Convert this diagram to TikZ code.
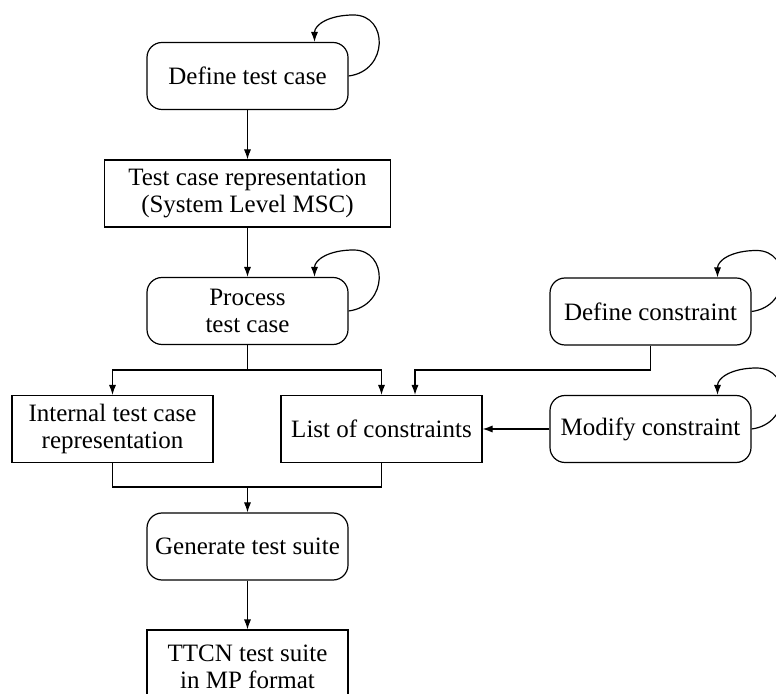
\documentclass[tikz,border=0pt]{standalone}
\usepackage{fontspec}
\setmainfont{Liberation Serif}
\usetikzlibrary{calc,arrows.meta}
\begin{document}
\begin{tikzpicture}[x=0.5pt,y=-0.5pt,
  every node/.style={font=\fontsize{12.5}{13.5}\selectfont, align=center, inner sep=0pt},
  line/.style={line width=0.6pt},
  arr/.style={line width=0.6pt,-{Latex[length=5pt,width=3.6pt]}},
  proc/.style={draw, line width=0.6pt, rounded corners=7.5pt, minimum width=100.5pt, minimum height=33.5pt},
  data/.style={draw, line width=0.6pt, minimum width=100.5pt, minimum height=33.5pt}]
\path[use as bounding box] (0,0) rectangle (776,694);
\clip (0,0) rectangle (776,694);

\node[proc] (dtc) at (247.5,76) {Define test case};
\node[data, minimum width=143pt] (tcr) at (247.5,193.5) {Test case representation\\(System Level MSC)};
\node[proc] (ptc) at (247.5,311) {Process\\test case};
\node[proc] (dc) at (650.5,311.5) {Define constraint};
\node[data] (itc) at (112.5,429) {Internal test case\\representation};
\node[data] (loc) at (381.5,429) {List of constraints};
\node[proc] (mc) at (650.5,429) {Modify constraint};
\node[proc] (gts) at (247.5,546.5) {Generate test suite};
\node[data, minimum height=37pt] (ttcn) at (247.5,667) {TTCN test suite\\in MP format};

\coordinate (s) at (247.5,370);
\coordinate (s2) at (650.5,370);
\coordinate (j) at (247.5,487);

\draw[arr] (dtc.south) -- (tcr.north);
\draw[arr] (tcr.south) -- (ptc.north);
\draw[line] (ptc.south) -- (s);
\draw[arr] (s) -| (itc.north);
\draw[arr] (s) -| (loc.north);
\draw[line] (dc.south) -- (s2);
\draw[arr] (s2) -| ($(loc.north)+(33.5,0)$);
\draw[arr] (mc.west) -- (loc.east);
\draw[line] (itc.south) |- (j) -| (loc.south);
\draw[arr] (j) -- (gts.north);
\draw[arr] (gts.south) -- (ttcn.north);

\foreach \n in {dtc,ptc,dc,mc}{
  \draw[arr] (\n.east) .. controls +(40,-5) and +(35,0) .. ($(\n.east)+(5,-61)$)
    .. controls +(-25,0) and +(0,-17) .. ($(\n.north)+(67,0)$);
}
\end{tikzpicture}
\end{document}
